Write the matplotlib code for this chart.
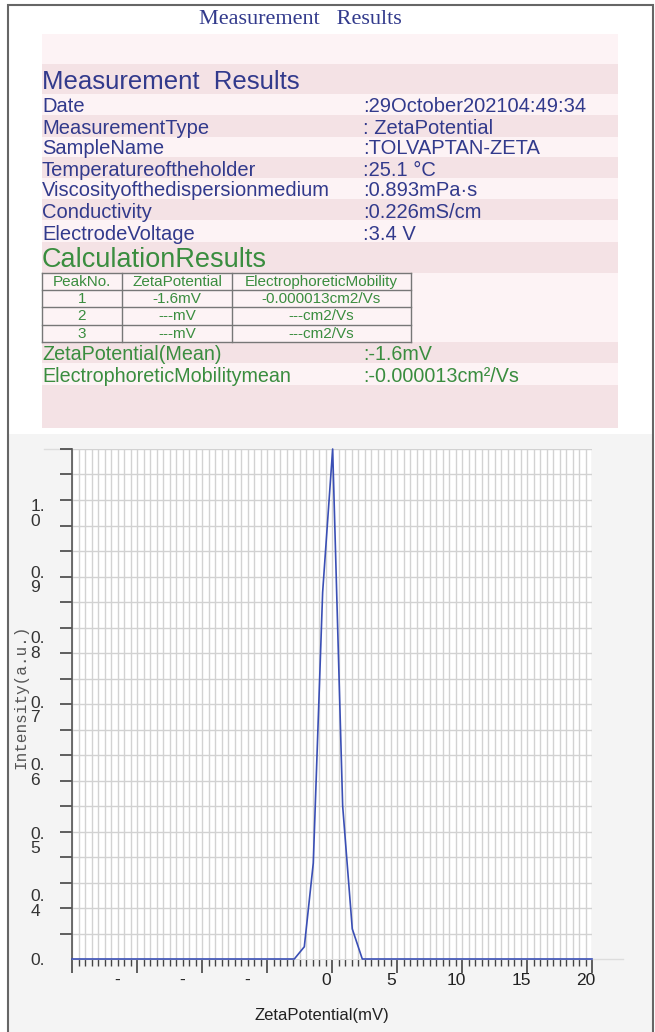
import numpy as np
import matplotlib
matplotlib.use("Agg")
import matplotlib.pyplot as plt
from matplotlib.patches import Rectangle
from matplotlib.transforms import ScaledTranslation

plt.rcParams["font.family"] = ["Liberation Sans", "DejaVu Sans"]

W, H = 655, 1032
NAVY = "#323a8c"
GREEN = "#3a8d3f"
PINK_LIGHT = "#fdf3f5"
PINK_DARK = "#f4e2e5"

# report text
info_labels = ["Date", "MeasurementType", "SampleName", "Temperatureoftheholder",
               "Viscosityofthedispersionmedium", "Conductivity", "ElectrodeVoltage"]
info_values = [":29October202104:49:34", ": ZetaPotential", ":TOLVAPTAN-ZETA", ":25.1 °C",
               ":0.893mPa·s", ":0.226mS/cm", ":3.4 V"]
table_header = ["PeakNo.", "ZetaPotential", "ElectrophoreticMobility"]
table_rows = [["1", "-1.6mV", "-0.000013cm2/Vs"],
              ["2", "---mV", "---cm2/Vs"],
              ["3", "---mV", "---cm2/Vs"]]
mean_labels = ["ZetaPotential(Mean)", "ElectrophoreticMobilitymean"]
mean_values = [":-1.6mV", ":-0.000013cm²/Vs"]

# distribution curve
zeta_mv = [-20.0, -2.9, -2.13, -1.44, -0.72, 0.05, 0.82, 1.56, 2.33, 20.0]
intensity = [0.0, 0.0, 0.024, 0.188, 0.719, 1.0, 0.30, 0.059, 0.0, 0.0]

x_major = [-20, -15, -10, -5, 0, 5, 10, 15, 20]
x_labels = ["", "-", "-", "-", "0", "5", "10", "15", "20"]
y_labels = ["1.\n0", "0.\n9", "0.\n8", "0.\n7", "0.\n6", "0.\n5", "0.\n4", "0."]
# where the (odd) y labels actually sit on the axis
Y_LABEL_POS = [0.875, 0.745, 0.616, 0.49, 0.367, 0.233, 0.11, 0.0]

fig = plt.figure(figsize=(W / 100, H / 100), dpi=100)
bg = fig.add_axes([0, 0, 1, 1], zorder=0)
bg.set_xlim(0, W)
bg.set_ylim(H, 0)
bg.axis("off")

# lower panel background + frame
bg.add_patch(Rectangle((9, 434), 644, H - 434, color="#f4f4f4", lw=0))
bg.plot([8, 8, 653, 653], [H, 5, 5, H], color="#666666", lw=1.5, solid_joinstyle="miter")

bg.text(300, 20, "Measurement   Results", family="Liberation Serif", fontsize=16,
        color=NAVY, ha="center", va="center")

# pink report box, row by row
rows = [(34, 64, PINK_LIGHT), (64, 94, PINK_DARK)]
edges = [94, 115, 137, 157, 178, 199, 220, 242]
for i in range(len(info_labels)):
    rows.append((edges[i], edges[i + 1], PINK_LIGHT if i % 2 == 0 else PINK_DARK))
rows += [(242, 273, PINK_DARK), (273, 342, PINK_LIGHT), (342, 363, PINK_DARK),
         (363, 385, PINK_LIGHT), (385, 428, PINK_DARK)]
for top, bot, c in rows:
    bg.add_patch(Rectangle((42, top), 576, bot - top, color=c, lw=0))

bg.text(42, 89, "Measurement  Results", fontsize=18.5, color=NAVY, va="baseline")
for i, (lab, val) in enumerate(zip(info_labels, info_values)):
    yb = edges[i + 1] - 2.5
    bg.text(42, yb, lab, fontsize=14.5, color=NAVY, va="baseline")
    bg.text(363, yb, val, fontsize=14.5, color=NAVY, va="baseline")

bg.text(42, 267, "CalculationResults", fontsize=19.5, color=GREEN, va="baseline")

col_x = [42, 122, 232, 411]
row_y = [273, 290, 307, 325, 342]
for cx in col_x:
    bg.plot([cx, cx], [row_y[0], row_y[-1]], color="#777777", lw=1)
for ry in row_y:
    bg.plot([col_x[0], col_x[-1]], [ry, ry], color="#777777", lw=1)
for r, cells in enumerate([table_header] + table_rows):
    for c, txt in enumerate(cells):
        bg.text((col_x[c] + col_x[c + 1]) / 2, (row_y[r] + row_y[r + 1]) / 2 + 0.5, txt,
                fontsize=11, color=GREEN, ha="center", va="center")

for lab, val, yb in zip(mean_labels, mean_values, [360, 382]):
    bg.text(42, yb, lab, fontsize=14.2, color=GREEN, va="baseline")
    bg.text(363, yb, val, fontsize=14.2, color=GREEN, va="baseline")

# faint edge lines around plot
bg.plot([44, 72], [449, 449], color="#dddddd", lw=1)
bg.plot([592, 623], [959, 959], color="#dddddd", lw=1)

# plot
ax = fig.add_axes([72 / W, 1 - 959 / H, 520 / W, 510 / H], zorder=1)
ax.set_facecolor("white")
ax.plot(zeta_mv, intensity, color="#3a4fb5", lw=1.2, clip_on=False, zorder=3)
ax.set_xlim(-20, 20)
ax.set_ylim(0, 1.0)

ax.set_xticks(x_major)
ax.set_xticklabels(x_labels)
ax.set_xticks(np.arange(-20, 20.01, 0.5), minor=True)
ax.set_yticks(Y_LABEL_POS)
ax.set_yticklabels(y_labels, ha="left", linespacing=0.95)
ax.set_yticks(np.arange(0, 1.001, 0.05), minor=True)

ax.grid(axis="x", which="both", color="#d2d2d2", lw=1)
ax.grid(axis="y", which="minor", color="#d2d2d2", lw=1)
ax.set_axisbelow(True)

ax.tick_params(axis="x", which="major", length=10, width=1.2, color="#444444",
               labelsize=12.5, labelcolor="#222222", pad=0)
ax.tick_params(axis="x", which="minor", length=5, width=1, color="#444444")
ax.tick_params(axis="y", which="major", length=0, pad=30, labelsize=12.5,
               labelcolor="#333333")
ax.tick_params(axis="y", which="minor", length=9, width=1.2, color="#444444")

for lab, txt in zip(ax.get_xticklabels(), x_labels):
    dx = -20 if txt == "-" else -6
    lab.set_transform(lab.get_transform() + ScaledTranslation(dx / 100, 0, fig.dpi_scale_trans))

for side in ["top", "right"]:
    ax.spines[side].set_visible(False)
ax.spines["left"].set_color("#555555")
ax.spines["left"].set_linewidth(1.2)
ax.spines["bottom"].set_color("#dddddd")

ax.set_ylabel("Intensity(a.u.)", family="Liberation Mono", fontsize=11.5, color="#555555",
              va="center")
ax.yaxis.set_label_coords(-0.098, 0.514)
ax.set_xlabel("ZetaPotential(mV)", fontsize=12, color="#222222", va="center")
ax.xaxis.set_label_coords(0.481, -0.11)

fig.savefig("out.png", dpi=100)
